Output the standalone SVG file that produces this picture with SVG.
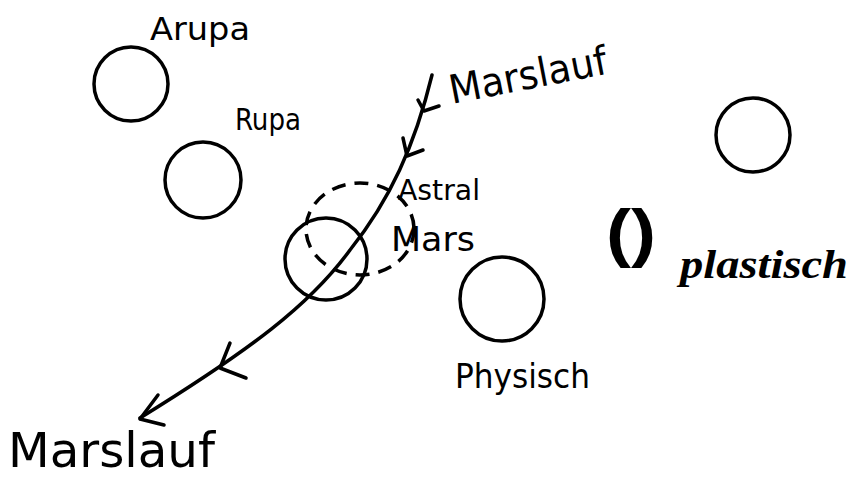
<svg xmlns="http://www.w3.org/2000/svg" width="858" height="478" viewBox="0 0 858 478">
<style>
.c{fill:none;stroke:#000;stroke-width:3.5}
.d{fill:none;stroke:#000;stroke-width:3.5;stroke-dasharray:14 9}
.h{font-family:"DejaVu Sans Condensed","DejaVu Sans",sans-serif;fill:#000}
.l{fill:none;stroke:#000;stroke-width:3.5;stroke-linecap:round;stroke-linejoin:round}
</style>
<rect width="858" height="478" fill="#fff"/>
<g id="arupa"><circle class="c" cx="131" cy="84" r="37"/><text class="h" x="150" y="40" font-size="32" textLength="100" lengthAdjust="spacingAndGlyphs">Arupa</text></g>
<g id="rupa"><circle class="c" cx="203" cy="180" r="38"/><text class="h" x="235" y="130" font-size="30" textLength="66" lengthAdjust="spacingAndGlyphs">Rupa</text></g>
<g id="mars"><circle class="c" cx="326" cy="259" r="41"/><text class="h" x="391" y="251" font-size="34" textLength="84" lengthAdjust="spacingAndGlyphs">Mars</text></g>
<g id="astral"><ellipse class="d" cx="360" cy="229" rx="54" ry="46"/><text class="h" x="398" y="200" font-size="28" textLength="82" lengthAdjust="spacingAndGlyphs">Astral</text></g>
<g id="right"><circle class="c" cx="753" cy="135" r="37"/></g>
<g id="physisch"><circle class="c" cx="502" cy="299" r="42"/><text class="h" x="455" y="388" font-size="34" textLength="135" lengthAdjust="spacingAndGlyphs">Physisch</text></g>
<g id="plastisch">
<text x="606" y="255" font-family="Liberation Sans,sans-serif" font-weight="bold" font-size="64" textLength="50" lengthAdjust="spacingAndGlyphs">()</text>
<text x="680" y="278" font-family="Liberation Serif,serif" font-weight="bold" font-style="italic" font-size="40" textLength="168" lengthAdjust="spacingAndGlyphs">plastisch</text>
</g>
<g id="labels">
<text class="h" x="452" y="104" font-size="40" transform="rotate(-11 452 104)" textLength="160" lengthAdjust="spacingAndGlyphs">Marslauf</text>
<text class="h" x="8" y="467" font-size="48" textLength="207" lengthAdjust="spacingAndGlyphs">Marslauf</text>
</g>
<g id="connectors">
<path class="l" d="M432,75 C415,145 390,200 350,250 C310,305 250,350 140,418"/>
<path class="l" d="M418,100 L424,111 L439,106"/>
<path class="l" d="M403,138 L407,156 L423,150"/>
<path class="l" d="M230,343 L220,368 L246,378"/>
<path class="l" d="M158,395 L140,419 L164,425"/>
</g>
</svg>
